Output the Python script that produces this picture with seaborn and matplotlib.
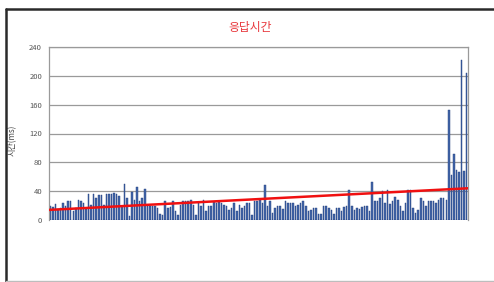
import numpy as np
import pandas as pd
import matplotlib
matplotlib.use("Agg")
import matplotlib.pyplot as plt
from matplotlib.lines import Line2D
import seaborn as sns

# ---------------------------------------------------------------
# Dados (tempo de resposta em ms, por requisição)
# ---------------------------------------------------------------
tempos = [
    20, 18, 22, 15, 16, 24, 19, 26, 26, 12, 16, 28, 27, 24, 15, 36, 21, 36, 31, 34,
    34, 21, 36, 36, 36, 38, 36, 33, 20,
    50, 30, 5, 39, 28, 46, 26, 30, 43, 20, 20, 20, 20, 16, 9, 7, 26, 17, 18, 26,
    12, 7, 21, 26, 27, 27,
    28, 21, 7, 24, 20, 28, 12, 20, 19, 25, 24, 25, 24, 21, 19, 14, 16, 23, 12, 21,
    16, 19, 24, 24, 7, 26, 27, 28,
    24, 48, 19, 26, 10, 16, 19, 20, 15, 27, 24, 23, 24, 20, 21, 24, 26, 19, 12, 14,
    16, 17, 9, 8, 19, 20, 16, 14,
    9, 16, 16, 13, 18, 20, 42, 19, 14, 16, 15, 18, 20, 19, 12, 53, 26, 27, 31, 40,
    24, 42, 22, 27, 32, 28, 20,
    13, 24, 41, 42, 16, 10, 14, 31, 27, 19, 26, 26, 26, 24, 28, 31, 31, 28,
    152, 62, 91, 69, 66, 222, 68, 204,
]
# linha de tendência (início / fim)
tendencia = [14, 44]
y_ticks = [0, 40, 80, 120, 160, 200, 240]

titulo = "응답시간"
rotulo_y = "시간(ms)"


def main():
    sns.set_theme(style="white")
    plt.rcParams['font.family'] = ['Noto Sans CJK KR', 'DejaVu Sans']

    W, H = 494, 282
    fig = plt.figure(figsize=(W / 100, H / 100), dpi=100)

    # moldura externa
    fig.add_artist(Line2D([5.5 / W, 5.5 / W], [1 - 9 / H, 1 - 281 / H],
                          color='#2a2a2a', lw=1.8, transform=fig.transFigure))
    fig.add_artist(Line2D([5.5 / W, 1.0], [1 - 9 / H, 1 - 9 / H],
                          color='#2a2a2a', lw=1.8, transform=fig.transFigure))
    fig.add_artist(Line2D([5.5 / W, 1.0], [1 - 280.5 / H, 1 - 280.5 / H],
                          color='#bdbdbd', lw=1.0, transform=fig.transFigure))

    ax = fig.add_axes([49 / W, 1 - 220 / H, 419 / W, 173 / H])

    df = pd.DataFrame({'idx': np.arange(len(tempos)), 'tempo': tempos})
    sns.barplot(data=df, x='idx', y='tempo', color='#4468ab', saturation=1,
                edgecolor='#1f3b7a', linewidth=0.3, width=0.6, ax=ax)

    n = len(tempos)
    ax.plot([-0.5, n - 0.5], tendencia, color='#f01010', lw=1.8, zorder=5)

    ax.set_xlim(-0.5, n - 0.5)
    ax.set_ylim(0, 240)
    ax.set_yticks(y_ticks)
    ax.set_yticklabels([str(t) for t in y_ticks], fontsize=5.5, color='#555555')
    ax.set_xticks([])
    ax.set_xlabel('')
    ax.tick_params(axis='y', length=0, pad=5)
    ax.yaxis.grid(True, color='#9a9a9a', lw=0.9)
    ax.set_axisbelow(True)
    for lado in ['left', 'top', 'right']:
        ax.spines[lado].set_color('#9a9a9a')
        ax.spines[lado].set_linewidth(0.9)
    ax.spines['bottom'].set_visible(False)

    ax.set_ylabel(rotulo_y, fontsize=5.8, color='#444444')
    ax.yaxis.set_label_coords(-0.076, 0.46)

    fig.text(250 / W, 1 - 27 / H, titulo, color='#e8383d', fontsize=8.5,
             ha='center', va='center')

    fig.savefig('out.png', dpi=100)


if __name__ == "__main__":
    main()
